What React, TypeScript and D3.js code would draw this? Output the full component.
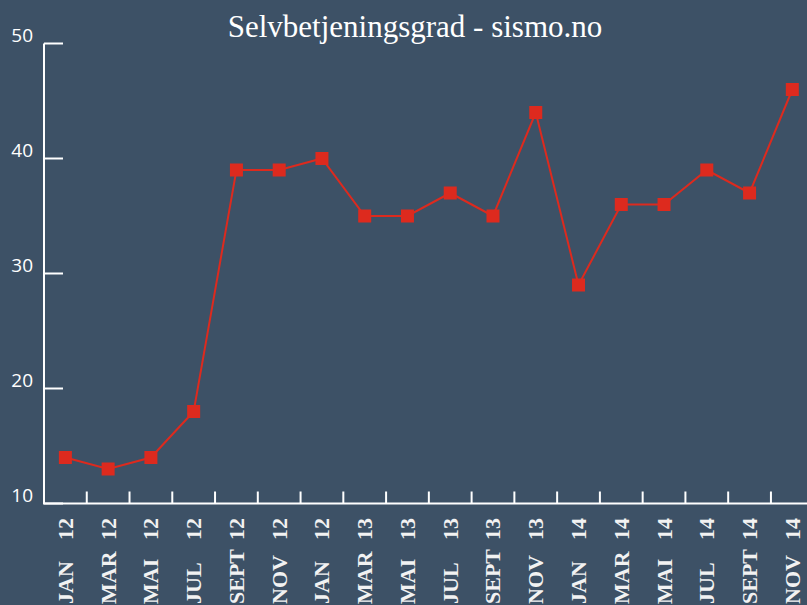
import React from "react";
import * as d3 from "d3";

const months = ["JAN", "MAR", "MAI", "JUL", "SEPT", "NOV", "JAN", "MAR", "MAI", "JUL", "SEPT", "NOV", "JAN", "MAR", "MAI", "JUL", "SEPT", "NOV"];
const years = ["12", "12", "12", "12", "12", "12", "12", "13", "13", "13", "13", "13", "14", "14", "14", "14", "14", "14"];
const values = [14, 13, 14, 18, 39, 39, 40, 35, 35, 37, 35, 44, 29, 36, 36, 39, 37, 46];
const yTicks = [10, 20, 30, 40, 50];
const title = "Selvbetjeningsgrad - sismo.no";

const W = 807;
const H = 605;
const BG = "#3d5166";
const RED = "#dd2a1e";
const FG = "#ffffff";

export default function App() {
  const idx = values.map((_, i) => i);
  const x = d3.scaleBand<number>().domain(idx).range([44, 813.7]).padding(0);
  const y = d3.scaleLinear().domain([10, 50]).range([503.5, 43.5]);
  const line = d3
    .line<number>()
    .x((_, i) => (x(i) as number) + x.bandwidth() / 2)
    .y((d) => y(d));
  const boundaries = idx.slice(1).map((i) => x(i) as number);
  const ms = 13;

  return (
    <svg
      width={W}
      height={H}
      style={{ position: "absolute", left: 0, top: 0, background: BG, display: "block" }}
    >
      <rect x={0} y={0} width={W} height={H} fill={BG} />
      <text
        x={415}
        y={37}
        textAnchor="middle"
        fill={FG}
        fontFamily="'Liberation Serif', 'DejaVu Serif', serif"
        fontSize={31}
      >
        {title}
      </text>
      {/* y axis */}
      <line x1={44} x2={44} y1={y(50)} y2={y(10)} stroke={FG} strokeWidth={2} />
      {yTicks.map((t) => (
        <g key={t}>
          <line x1={44} x2={63} y1={y(t)} y2={y(t)} stroke={FG} strokeWidth={2} />
          <text
            x={33}
            y={y(t) - 2}
            textAnchor="end"
            fill={FG}
            fontFamily="'Open Sans', 'Noto Sans', sans-serif"
            fontSize={19}
          >
            {t}
          </text>
        </g>
      ))}
      {/* x axis */}
      <line x1={43} x2={W} y1={y(10)} y2={y(10)} stroke={FG} strokeWidth={2} />
      {boundaries.map((b, i) => (
        <line key={i} x1={b} x2={b} y1={y(10) - 12} y2={y(10)} stroke={FG} strokeWidth={2} />
      ))}
      {idx.map((i) => {
        const cx = (x(i) as number) + x.bandwidth() / 2 + 7.5;
        return (
          <g key={i} fill="#f2f2f2" fontFamily="'Liberation Serif', 'DejaVu Serif', serif" fontWeight="bold" fontSize={22}>
            <text transform={`translate(${cx},518) rotate(-90)`} textAnchor="end">
              {years[i]}
            </text>
            <text transform={`translate(${cx},604) rotate(-90)`} textAnchor="start">
              {months[i]}
            </text>
          </g>
        );
      })}
      <path d={line(values) || ""} fill="none" stroke={RED} strokeWidth={2} />
      {values.map((v, i) => (
        <rect
          key={i}
          x={(x(i) as number) + x.bandwidth() / 2 - ms / 2}
          y={y(v) - ms / 2}
          width={ms}
          height={ms}
          fill={RED}
        />
      ))}
    </svg>
  );
}
